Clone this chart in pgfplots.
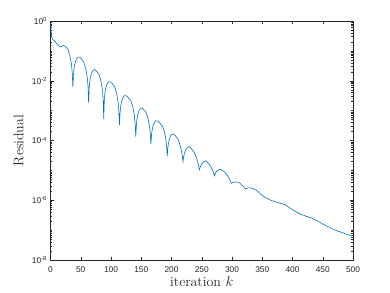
\documentclass[border=0pt]{standalone}
\usepackage{fontspec}
\newfontfamily\ticksf{Liberation Sans}
\usepackage{pgfplots}
\pgfplotsset{compat=1.18}
\definecolor{mblue}{rgb}{0,0.447,0.741}
\definecolor{axgray}{rgb}{0.15,0.15,0.15}
% minor ticks at log10(m)+k
\def\yminors{}
\foreach \k in {-8,...,-1}{
  \foreach \m in {0.30103,0.47712,0.60206,0.69897,0.77815,0.84510,0.90309,0.95424}{
    \pgfmathsetmacro\t{\k+\m}
    \xdef\yminors{\yminors\t,}
  }
}
\xdef\yminors{\yminors -7,-5,-3,-1}
% iteration k, log10 of residual
\pgfplotstableread{
k v
0 0
1 -0.35
2 -0.52
3 -0.58
5 -0.64
8 -0.70
11 -0.77
14 -0.84
16 -0.87
18 -0.86
20 -0.83
22 -0.82
24 -0.84
26 -0.88
29 -0.96
32 -1.16
34 -1.36
35 -1.52
36 -1.76
37 -2.22
38 -1.79
39 -1.58
40 -1.46
42 -1.31
45 -1.21
48 -1.21
50 -1.24
55 -1.38
58 -1.57
60 -1.79
61 -1.94
62 -2.18
63 -2.73
64 -2.21
65 -2.01
66 -1.89
68 -1.74
71 -1.64
73 -1.62
75 -1.66
80 -1.78
83 -1.98
85 -2.19
86 -2.35
87 -2.59
88 -3.28
89 -2.60
90 -2.40
91 -2.28
93 -2.13
96 -2.03
100 -2.05
102 -2.09
106 -2.20
109 -2.40
111 -2.62
112 -2.77
113 -3.01
114 -3.48
115 -3.07
116 -2.86
117 -2.74
119 -2.60
122 -2.50
125 -2.50
128 -2.55
133 -2.68
136 -2.87
138 -3.08
139 -3.24
140 -3.47
141 -3.87
142 -3.47
143 -3.28
144 -3.15
146 -3.01
149 -2.92
152 -2.92
154 -2.96
158 -3.07
161 -3.24
163 -3.44
164 -3.57
165 -3.77
166 -4.12
167 -3.80
168 -3.65
169 -3.55
171 -3.42
174 -3.34
177 -3.35
180 -3.40
185 -3.52
188 -3.69
190 -3.88
191 -4.02
192 -4.21
193 -4.52
194 -4.24
195 -4.09
196 -3.99
198 -3.86
200 -3.80
203 -3.78
206 -3.83
211 -3.96
214 -4.14
216 -4.30
217 -4.41
218 -4.53
219 -4.71
220 -4.55
221 -4.46
222 -4.39
224 -4.29
227 -4.23
229 -4.20
232 -4.25
238 -4.42
241 -4.56
243 -4.70
244 -4.78
245 -4.88
246 -4.98
247 -4.92
248 -4.86
249 -4.82
251 -4.76
253 -4.72
256 -4.68
259 -4.72
263 -4.81
266 -4.92
268 -5.00
269 -5.05
270 -5.12
271 -5.18
272 -5.12
273 -5.08
274 -5.05
276 -5.00
279 -4.97
283 -4.98
286 -5.02
291 -5.13
294 -5.22
296 -5.30
297 -5.34
298 -5.39
299 -5.43
300 -5.42
301 -5.41
302 -5.40
304 -5.39
307 -5.39
310 -5.40
313 -5.425
316 -5.49
318 -5.52
320 -5.57
321 -5.59
322 -5.62
323 -5.61
325 -5.60
328 -5.585
331 -5.585
333 -5.60
336 -5.62
340 -5.66
344 -5.73
348 -5.81
352 -5.87
357 -5.93
363 -5.99
371 -6.05
378 -6.09
385 -6.13
390 -6.18
396 -6.26
402 -6.34
407 -6.40
415 -6.48
425 -6.55
432 -6.60
440 -6.68
448 -6.77
457 -6.87
465 -6.95
472 -7.01
479 -7.06
488 -7.13
495 -7.17
500 -7.19
}\resdata
\begin{document}
\begin{tikzpicture}
\useasboundingbox (0,0) rectangle (390bp,293bp);
\begin{axis}[
  at={(50.5bp,33bp)}, anchor=south west,
  width=302.5bp, height=239bp, scale only axis,
  xmin=0, xmax=500, ymin=-8, ymax=0,
  xtick={0,50,...,500},
  ytick={-8,-6,-4,-2,0},
  yticklabels={10\textsuperscript{-8},10\textsuperscript{-6},10\textsuperscript{-4},10\textsuperscript{-2},10\textsuperscript{0}},
  minor ytick/.expand once=\yminors,
  tick align=inside,
  major tick length=3bp,
  minor tick length=1.6bp,
  every tick/.style={axgray, line width=0.4pt},
  axis line style={axgray, line width=0.5pt},
  /pgf/number format/assume math mode=true,
  xticklabel style={font=\ticksf\fontsize{8.4}{10}\selectfont, text=axgray, yshift=-3bp},
  yticklabel style={font=\ticksf\fontsize{8.4}{10}\selectfont, text=axgray},
  xlabel={iteration $k$},
  ylabel={Residual},
  every axis x label/.style={at={(axis description cs:0.5,-0.11)}, anchor=base, font=\fontsize{14}{16}\selectfont, text=axgray},
  every axis y label/.style={at={(axis description cs:-0.09,0.5)}, anchor=base, rotate=90, font=\fontsize{14}{16}\selectfont, text=axgray},
]
\addplot[mblue, line width=0.6bp] table[x=k, y=v] {\resdata};
\end{axis}
\end{tikzpicture}
\end{document}
